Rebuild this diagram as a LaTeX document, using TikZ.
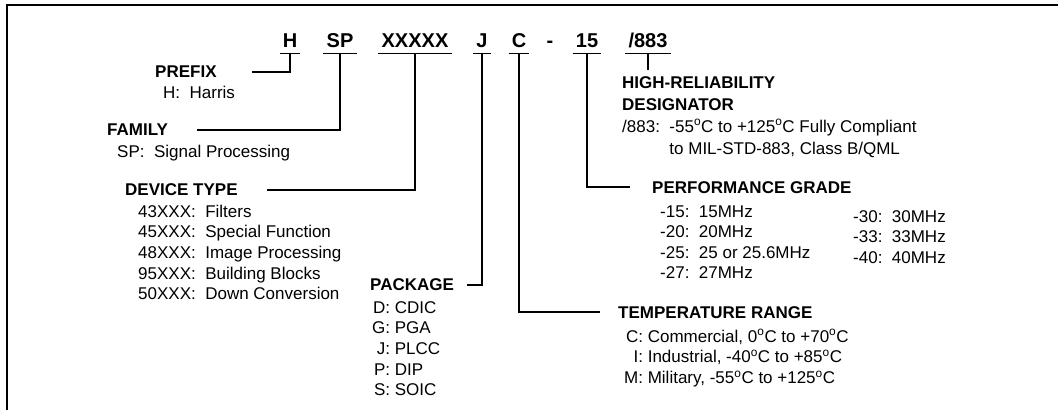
\documentclass[tikz,border=0pt]{standalone}
\usepackage{fontspec}
\setmainfont{Liberation Sans}
\newcommand{\degC}{\textsuperscript{o}C}
\tikzset{
  pn/.style={font=\fontsize{20}{24}\selectfont\bfseries, anchor=base,
             inner xsep=3pt, inner ysep=6pt, text depth=0pt},
  uline/.style={line width=1.3pt},
  hdr/.style={font=\fontsize{17}{22}\selectfont\bfseries, anchor=base west, inner sep=0pt},
  lst/.style={font=\fontsize{17}{20.7}\selectfont, anchor=base west, inner sep=0pt},
  link/.style={line width=1.1pt},
  frame/.style={line width=2pt},
}

\begin{document}
\begin{tikzpicture}[x=1pt,y=-1pt]
  \useasboundingbox (0,0) rectangle (1058,410);
  \draw[frame] (7,410) -- (7,5) -- (1058,5);
  % part number fields
  \foreach \n/\x/\t in {pH/290/H, pSP/340/SP, pX/415/XXXXX, pJ/482/J,
                        pC/519/C, pG/587/15, pQ/648/{/883}}{
    \node[pn] (\n) at (\x,47) {\t};
    \draw[uline] (\n.south west) -- (\n.south east);
  }
  \node[pn] (dash) at (550,47) {-};
  % prefix
  \node[hdr] (prefix) at (155,77) {PREFIX};
  \node[lst] (prefixv) at (163,98) {H:\ \ Harris};
  \coordinate (prefixL) at (252,72);
  \draw[link] (pH.south) |- (prefixL);
  % family
  \node[hdr] (family) at (107,135) {FAMILY};
  \node[lst] (familyv) at (117,157) {SP:\ \ Signal Processing};
  \coordinate (familyL) at (197,130);
  \draw[link] (pSP.south) |- (familyL);
  % device type
  \node[hdr] (device) at (125,195) {DEVICE TYPE};
  \foreach \c/\t [count=\i from 0] in {43XXX/Filters, 45XXX/Special Function,
      48XXX/Image Processing, 95XXX/Building Blocks, 50XXX/Down Conversion}
    \node[lst] (dev\i) at (138,{217+20.7*\i}) {\c:\ \ \t};
  \coordinate (deviceL) at (267,190);
  \draw[link] (pX.south) |- (deviceL);
  % package
  \node[hdr] (package) at (370,290) {PACKAGE};
  \node[lst] (packagev) at (372,313) {\begin{tabular}[t]{@{}r@{:\ }l@{}}
      D&CDIC\\ G&PGA\\ J&PLCC\\ P&DIP\\ S&SOIC\end{tabular}};
  \coordinate (packageL) at (467,285);
  \draw[link] (pJ.south) |- (packageL);
  % temperature range
  \node[hdr] (temp) at (618,318) {TEMPERATURE RANGE};
  \node[lst] (tempv) at (624,342) {\begin{tabular}[t]{@{}r@{:\ }l@{}}
      C&Commercial, 0\degC{} to +70\degC\\
      I&Industrial, -40\degC{} to +85\degC\\
      M&Military, -55\degC{} to +125\degC\end{tabular}};
  \coordinate (tempL) at (600,312);
  \draw[link] (pC.south) |- (tempL);
  % performance grade
  \node[hdr] (perf) at (652,193) {PERFORMANCE GRADE};
  \foreach \g/\f [count=\i from 0] in {15/15MHz, 20/20MHz, 25/25 or 25.6MHz, 27/27MHz}
    \node[lst] (pgl\i) at (660,{217+20.5*\i}) {-\g:\ \ \f};
  \foreach \g/\f [count=\i from 0] in {30/30MHz, 33/33MHz, 40/40MHz}
    \node[lst] (pgr\i) at (853,{222+20.5*\i}) {-\g:\ \ \f};
  \coordinate (perfL) at (630,187);
  \draw[link] (pG.south) |- (perfL);
  % high-reliability designator
  \node[hdr] (hrel) at (622,88) {HIGH-RELIABILITY};
  \node[hdr] (desig) at (622,110) {DESIGNATOR};
  \node[lst, font=\fontsize{17}{22}\selectfont] (hrelv) at (622,132)
    {\begin{tabular}[t]{@{}l@{\ \ }l@{}}
      /883:&-55\degC{} to +125\degC{} Fully Compliant\\
      &to MIL-STD-883, Class B/QML\end{tabular}};
  \coordinate (hrelT) at (648,70);
  \draw[link] (pQ.south) -- (hrelT);
\end{tikzpicture}
\end{document}
